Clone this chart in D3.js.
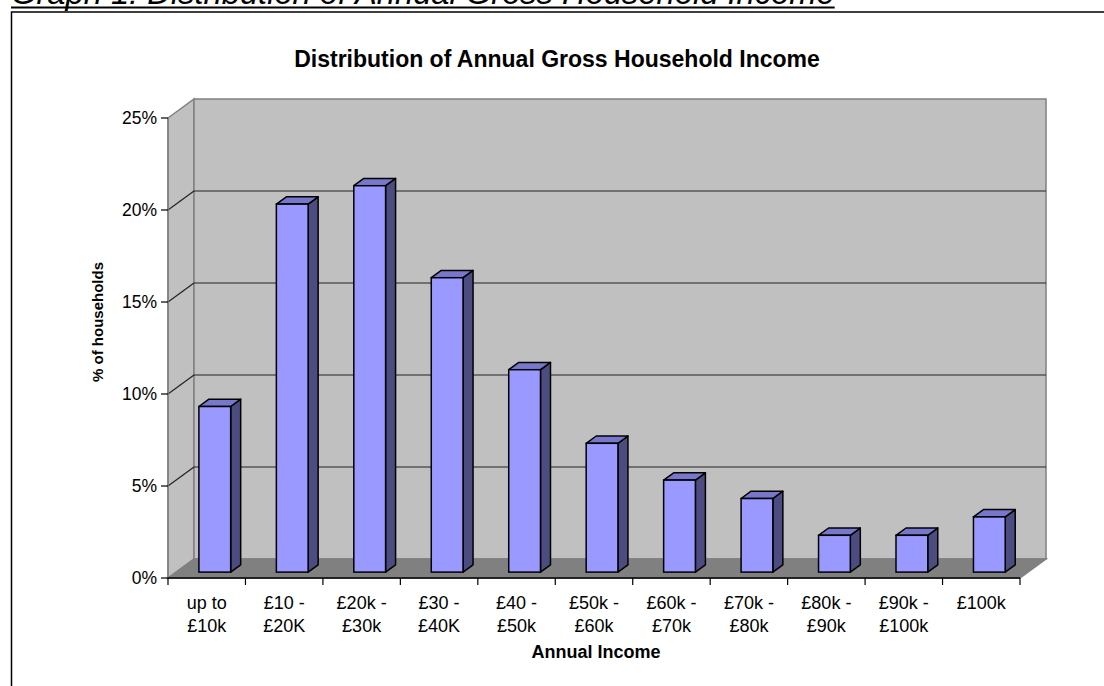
<!DOCTYPE html>
<html>
<head>
<meta charset="utf-8">
<script src="https://cdn.jsdelivr.net/npm/d3@7"></script>
<style>
  html, body { margin: 0; padding: 0; background: #fff; }
  svg { display: block; font-family: "Liberation Sans", Arial, sans-serif; }
</style>
</head>
<body>
<svg id="chart" width="1104" height="686"></svg>
<script>
const categories = [
  ["up to", "£10k"], ["£10 -", "£20K"], ["£20k -", "£30k"], ["£30 -", "£40K"],
  ["£40 -", "£50k"], ["£50k -", "£60k"], ["£60k -", "£70k"], ["£70k -", "£80k"],
  ["£80k -", "£90k"], ["£90k -", "£100k"], ["£100k"]
];
const values = [9, 20, 21, 16, 11, 7, 5, 4, 2, 2, 3];
const yTicks = [0, 5, 10, 15, 20, 25];
const yTickLabels = ["0%", "5%", "10%", "15%", "20%", "25%"];
const caption = "Graph 1: Distribution of Annual Gross Household Income";
const title = "Distribution of Annual Gross Household Income";
const xTitle = "Annual Income";
const yTitle = "% of households";

(function () {
const svg = d3.select("#chart");
const pLeft = 168, pRight = 1020, pBottom = 578, pTop = 118;
const DX = 26, DY = -19;          // wall depth offset
const fFront = 0.31, fBack = 0.695; // bar depth fractions

const keys = categories.map(d => d.join(" "));
const x = d3.scaleBand().domain(keys).range([pLeft, pRight]).paddingInner(0.59).paddingOuter(0.295);
const y = d3.scaleLinear().domain([0, 25]).range([pBottom, pTop]);
const step = x.step();
const bw = x.bandwidth();
const pts = a => a.map(p => p.join(",")).join(" ");

// caption
const cap = svg.append("text").attr("x", 11).attr("y", 4)
  .attr("font-size", "32.7px").attr("font-style", "italic").attr("fill", "#000").text(caption);
const capLen = cap.node().getComputedTextLength();
svg.append("line").attr("x1", 11).attr("x2", 11 + capLen).attr("y1", 7.5).attr("y2", 7.5)
  .attr("stroke", "#000").attr("stroke-width", 2);

// frame
svg.append("rect").attr("x", 11.5).attr("y", 12).attr("width", 1200).attr("height", 800)
  .attr("fill", "#fff").attr("stroke", "#000").attr("stroke-width", 1.5);

// title
svg.append("text").attr("x", 557).attr("y", 67).attr("text-anchor", "middle")
  .attr("font-size", "23px").attr("font-weight", "bold").text(title);

const wallStroke = "#808080";
// side wall
svg.append("polygon")
  .attr("points", pts([[pLeft, y(25)], [pLeft + DX, y(25) + DY], [pLeft + DX, pBottom + DY], [pLeft, pBottom]]))
  .attr("fill", "#c0c0c0").attr("stroke", wallStroke).attr("stroke-width", 1.5);
// back wall
svg.append("rect").attr("x", pLeft + DX).attr("y", y(25) + DY)
  .attr("width", pRight - pLeft).attr("height", pBottom - y(25))
  .attr("fill", "#c0c0c0").attr("stroke", wallStroke).attr("stroke-width", 1.5);
// floor
svg.append("polygon")
  .attr("points", pts([[pLeft, pBottom], [pLeft + DX, pBottom + DY], [pRight + DX, pBottom + DY], [pRight, pBottom]]))
  .attr("fill", "#808080").attr("stroke", wallStroke).attr("stroke-width", 1.5);

// gridlines
yTicks.filter(t => t > 0 && t < 25).forEach(t => {
  svg.append("line").attr("x1", pLeft + DX).attr("x2", pRight + DX)
    .attr("y1", y(t) + DY).attr("y2", y(t) + DY).attr("stroke", "#222").attr("stroke-width", 1.2);
  svg.append("line").attr("x1", pLeft).attr("x2", pLeft + DX)
    .attr("y1", y(t)).attr("y2", y(t) + DY).attr("stroke", "#222").attr("stroke-width", 1.2);
});

// bars
const g = svg.append("g");
categories.forEach((c, i) => {
  const k = keys[i], v = values[i];
  const x0 = x(k) + DX * fFront, x1 = x0 + bw;
  const oy = DY * fFront;
  const yt = y(v) + oy, yb = y(0) + oy;
  const ddx = DX * (fBack - fFront), ddy = DY * (fBack - fFront);
  g.append("polygon").attr("points", pts([[x1, yt], [x1 + ddx, yt + ddy], [x1 + ddx, yb + ddy], [x1, yb]]))
    .attr("fill", "#4c4c80").attr("stroke", "#000").attr("stroke-width", 1.5).attr("stroke-linejoin", "round");
  g.append("polygon").attr("points", pts([[x0, yt], [x1, yt], [x1 + ddx, yt + ddy], [x0 + ddx, yt + ddy]]))
    .attr("fill", "#7777cc").attr("stroke", "#000").attr("stroke-width", 1.5).attr("stroke-linejoin", "round");
  g.append("rect").attr("x", x0).attr("y", yt).attr("width", bw).attr("height", yb - yt)
    .attr("fill", "#9999ff").attr("stroke", "#000").attr("stroke-width", 1.5);
});

// y axis
svg.append("line").attr("x1", pLeft).attr("x2", pLeft).attr("y1", y(25)).attr("y2", pBottom)
  .attr("stroke", "#808080").attr("stroke-width", 1.5);
yTicks.forEach((t, i) => {
  svg.append("line").attr("x1", pLeft - 7).attr("x2", pLeft).attr("y1", y(t)).attr("y2", y(t))
    .attr("stroke", "#000").attr("stroke-width", 1.2);
  svg.append("text").attr("x", 157).attr("y", y(t)).attr("dy", "0.35em")
    .attr("text-anchor", "end").attr("font-size", "17.5px").text(yTickLabels[i]);
});

// x axis
svg.append("line").attr("x1", pLeft).attr("x2", pRight).attr("y1", pBottom).attr("y2", pBottom)
  .attr("stroke", "#000").attr("stroke-width", 1.5);
keys.forEach(k => {
  const bx = x(k) - step * x.paddingInner() / 2;
  svg.append("line").attr("x1", bx).attr("x2", bx).attr("y1", pBottom).attr("y2", pBottom + 7)
    .attr("stroke", "#000").attr("stroke-width", 1.2);
});
svg.append("line").attr("x1", pRight).attr("x2", pRight).attr("y1", pBottom).attr("y2", pBottom + 7)
  .attr("stroke", "#000").attr("stroke-width", 1.2);
categories.forEach((c, i) => {
  const cx = x(keys[i]) + bw / 2;
  const t = svg.append("text").attr("x", cx).attr("text-anchor", "middle").attr("font-size", "18px");
  c.forEach((line, j) => t.append("tspan").attr("x", cx).attr("y", 609 + j * 23).text(line));
});

// axis titles
svg.append("text").attr("x", 596).attr("y", 658).attr("text-anchor", "middle")
  .attr("font-size", "18px").attr("font-weight", "bold").text(xTitle);
svg.append("text").attr("transform", "translate(103,322) rotate(-90)").attr("text-anchor", "middle")
  .attr("font-size", "15px").attr("font-weight", "bold").text(yTitle);
})();
</script>
</body>
</html>
